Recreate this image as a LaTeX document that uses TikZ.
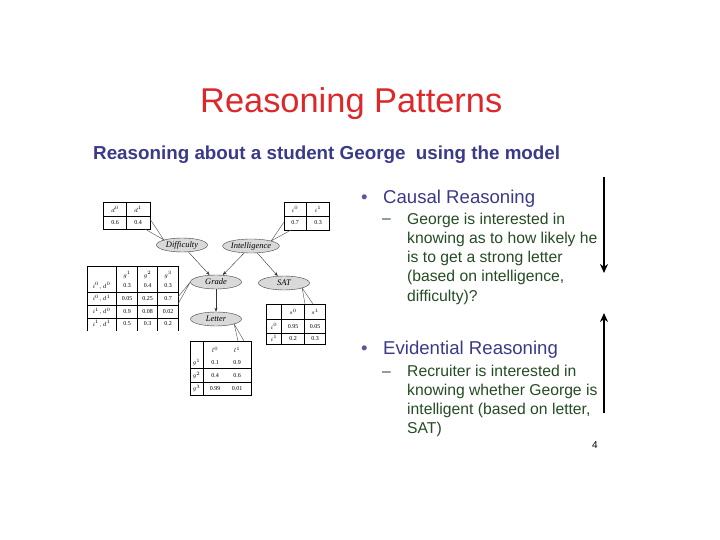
\documentclass[tikz,border=0pt]{standalone}
\usepackage{fontspec}
\setmainfont{Liberation Serif}
\newfontfamily\slidesf{Liberation Sans}
\usetikzlibrary{shapes.geometric,arrows.meta}
\definecolor{titlered}{RGB}{220,40,42}
\definecolor{headblue}{RGB}{58,58,136}
\definecolor{bodygreen}{RGB}{36,76,36}
\tikzset{
  rv/.style={ellipse,draw=black!75,fill=black!15,minimum width=51pt,minimum height=14pt,
    inner sep=0pt,font=\fontsize{8.5}{9}\selectfont\itshape},
  cpd/.style={inner sep=0pt,font=\fontsize{6}{7}\selectfont},
  edge/.style={black!80,thin,-{Stealth[length=4pt,width=3pt]}},
  callout/.style={black!70,thin},
  head/.style={anchor=base west,inner sep=0pt,text=headblue,font=\slidesf\fontsize{18.6}{22}\selectfont},
  body/.style={anchor=base west,inner sep=0pt,align=left,text=bodygreen,font=\slidesf\fontsize{15.7}{19.3}\selectfont},
  bigarrow/.style={line width=2.2pt,-{Stealth[length=9pt,width=8pt]}}
}
\begin{document}
\begin{tikzpicture}[x=1pt,y=-1pt]
\useasboundingbox (0,0) rectangle (720,540);
% titles
\node[anchor=base west,inner sep=0pt,text=titlered,font=\slidesf\fontsize{34.4}{40}\selectfont] (title) at (200,113) {Reasoning Patterns};
\node[anchor=base west,inner sep=0pt,text=headblue,font=\slidesf\bfseries\fontsize{18.8}{22}\selectfont] (subtitle) at (93,160) {Reasoning about a student George\ \ using the model};
% the network
\node[rv] (diff) at (182,245) {Difficulty};
\node[rv] (intel) at (251,246) {Intelligence};
\node[rv] (grade) at (216,282) {Grade};
\node[rv] (sat) at (284,283) {SAT};
\node[rv] (letter) at (216,319) {Letter};
\draw[edge] (diff) -- (grade);
\draw[edge] (intel) -- (grade);
\draw[edge] (intel) -- (sat);
\draw[edge] (grade) -- (letter);
% CPD of difficulty
\draw[thin] (103,202) rectangle (150,229) (126.5,202) -- (126.5,229) (103,216) -- (150,216);
\node[cpd] (d00) at (115,209.5) {$d^0$};
\node[cpd] (d01) at (138,209.5) {$d^1$};
\node[cpd] (d10) at (115,222.5) {0.6};
\node[cpd] (d11) at (138,222.5) {0.4};
\coordinate (dc1) at (150,219); \coordinate (dc2) at (145,229);
\draw[callout] (dc1) -- (diff.north west) -- (dc2);
% CPD of intelligence
\draw[thin] (284,202) rectangle (329,230) (306.5,202) -- (306.5,230) (284,216) -- (329,216);
\node[cpd] (i00) at (295,209.5) {$i^0$};
\node[cpd] (i01) at (318,209.5) {$i^1$};
\node[cpd] (i10) at (295,223) {0.7};
\node[cpd] (i11) at (318,223) {0.3};
\coordinate (ic1) at (284,222); \coordinate (ic2) at (291,230);
\draw[callout] (ic1) -- (intel.north east) -- (ic2);
% CPD of grade
\draw[thin] (87,331) -- (87,266) -- (178,266) -- (178,331)
  (116.5,266) -- (116.5,331) (137,266) -- (137,331) (157.5,266) -- (157.5,331)
  (87,292) -- (178,292) (87,305) -- (178,305) (87,318) -- (178,318);
\node[cpd] (gh1) at (127,275) {$g^1$};
\node[cpd] (gh2) at (147.5,275) {$g^2$};
\node[cpd] (gh3) at (168,275) {$g^3$};
\foreach \y/\lab/\a/\b/\c [count=\i] in {286/{$i^0,d^0$}/0.3/0.4/0.3,
    298.5/{$i^0,d^1$}/0.05/0.25/0.7, 311.5/{$i^1,d^0$}/0.9/0.08/0.02,
    324/{$i^1,d^1$}/0.5/0.3/0.2}{
  \node[cpd] (g\i0) at (101.5,\y) {\lab};
  \node[cpd] (g\i1) at (127,\y) {\a};
  \node[cpd] (g\i2) at (147.5,\y) {\b};
  \node[cpd] (g\i3) at (168,\y) {\c};
}
\coordinate (gc1) at (178,297); \coordinate (gc2) at (178,304);
\draw[callout] (gc1) -- (grade.west) -- (gc2);
% CPD of SAT
\draw[thin] (266,304) rectangle (325,344) (281.5,304) -- (281.5,344) (304.5,304) -- (304.5,344)
  (266,319.5) -- (325,319.5) (266,333) -- (325,333);
\node[cpd] (sh1) at (293,312) {$s^0$};
\node[cpd] (sh2) at (315,312) {$s^1$};
\node[cpd] (s10) at (274,326.5) {$i^0$};
\node[cpd] (s11) at (293,326.5) {0.95};
\node[cpd] (s12) at (315,326.5) {0.05};
\node[cpd] (s20) at (274,338.5) {$i^1$};
\node[cpd] (s21) at (293,338.5) {0.2};
\node[cpd] (s22) at (315,338.5) {0.3};
\coordinate (sc1) at (305,304); \coordinate (sc2) at (313,304);
\draw[callout] (sc1) -- (sat.south east) -- (sc2);
% CPD of letter
\draw[thin] (190,341) rectangle (251,395) (203,341) -- (203,395)
  (190,368.5) -- (251,368.5) (190,382) -- (251,382);
\node[cpd] (lh1) at (215,350) {$l^0$};
\node[cpd] (lh2) at (237,350) {$l^1$};
\foreach \y/\g/\a/\b [count=\i] in {362.5/1/0.1/0.9, 375.5/2/0.4/0.6, 388.5/3/0.99/0.01}{
  \node[cpd] (l\i0) at (196.5,\y) {$g^\g$};
  \node[cpd] (l\i1) at (215,\y) {\a};
  \node[cpd] (l\i2) at (237,\y) {\b};
}
\coordinate (lc1) at (238,341); \coordinate (lc2) at (244,341);
\draw[callout] (lc1) -- (letter.south east) -- (lc2);
% causal reasoning (base of a block = its last line)
\node[head,text=headblue!85] (bul1) at (361,203.5) {•};
\node[head] (causal) at (383,203.5) {Causal Reasoning};
\node[body] (dash1) at (382,224) {–};
\node[body] (causaltxt) at (407,301.2) {George is interested in\\knowing as to how likely he\\is to get a strong letter\\(based on intelligence,\\difficulty)?};
% evidential reasoning
\node[head,text=headblue!85] (bul2) at (361,354.5) {•};
\node[head] (evid) at (383,354.5) {Evidential Reasoning};
\node[body] (dash2) at (382,376) {–};
\node[body] (evidtxt) at (407,433.9) {Recruiter is interested in\\knowing whether George is\\intelligent (based on letter,\\SAT)};
% direction arrows
\coordinate (down1) at (604,177); \coordinate (down2) at (604,273);
\coordinate (up1) at (604,413); \coordinate (up2) at (604,313);
\draw[bigarrow] (down1) -- (down2);
\draw[bigarrow] (up1) -- (up2);
\node[anchor=base west,inner sep=0pt,font=\slidesf\fontsize{10}{12}\selectfont] (pagenum) at (592,448) {4};
\end{tikzpicture}
\end{document}
